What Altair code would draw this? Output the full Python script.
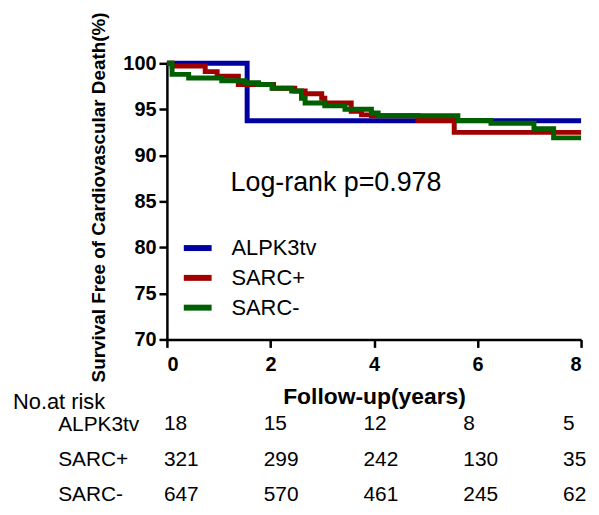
import altair as alt
import pandas as pd

# ---------------- data ----------------
groups = ["ALPK3tv", "SARC+", "SARC-"]
colors = ["#0000A0", "#A00000", "#005F00"]

alpk_t = [0, 1.55, 8.0]
alpk_s = [100, 93.75, 93.75]

sarcp_t = [0, 0.10, 0.74, 0.97, 1.38, 2.06, 2.47, 2.67, 2.99, 3.05, 3.56, 3.76, 3.95, 4.85, 5.55, 8.0]
sarcp_s = [100, 99.7, 99.1, 98.6, 97.7, 97.3, 97.0, 96.7, 96.2, 95.7, 94.8, 94.4, 94.3, 93.8, 92.5, 92.5]

sarcm_t = [0, 0.10, 0.42, 1.06, 1.51, 1.77, 2.03, 2.41, 2.60, 2.67, 3.05, 3.44, 3.95, 4.08, 5.62, 6.26, 7.09, 7.47, 8.0]
sarcm_s = [100, 98.8, 98.4, 98.1, 97.9, 97.7, 97.3, 97.0, 96.2, 95.7, 95.4, 95.0, 94.6, 94.3, 93.8, 93.5, 92.9, 91.9, 91.9]

x_ticks = [0, 2, 4, 6, 8]
y_ticks = [70, 75, 80, 85, 90, 95, 100]

risk_times = [0, 2, 4, 6, 8]
risk_alpk = [18, 15, 12, 8, 5]
risk_sarcp = [321, 299, 242, 130, 35]
risk_sarcm = [647, 570, 461, 245, 62]

logrank_text = "Log-rank p=0.978"
logrank_t = 1.23
logrank_s = 86.95

# ---------------- tables ----------------
rows = []
for g, ts, ss in zip(groups, [alpk_t, sarcp_t, sarcm_t], [alpk_s, sarcp_s, sarcm_s]):
    for t, s in zip(ts, ss):
        rows.append({"group": g, "t": t, "s": s})
curves = pd.DataFrame(rows)

risk_rows = []
for g, ns in zip(groups, [risk_alpk, risk_sarcp, risk_sarcm]):
    for t, n in zip(risk_times, ns):
        risk_rows.append({"group": g, "t": t, "n": n})
risk = pd.DataFrame(risk_rows)

ann = pd.DataFrame({"t": [logrank_t], "s": [logrank_s], "label": [logrank_text]})

FONT = "Liberation Sans"
NO_FRAME = alt.ViewBackground(stroke="transparent", strokeWidth=0, strokeOpacity=0)

x_enc = alt.X(
    "t:Q",
    scale=alt.Scale(domain=[0, 8], nice=False),
    axis=alt.Axis(
        values=x_ticks, title="Follow-up(years)", format="d",
        labelFont=FONT, labelFontSize=20, labelFontWeight="bold", labelColor="black",
        labelPadding=7, tickSize=8, tickWidth=2.5, tickColor="black",
        domainColor="black", domainWidth=2.5, grid=False,
        titleFont=FONT, titleFontSize=23, titleFontWeight="bold", titleColor="black",
        titlePadding=12,
    ),
)
y_enc = alt.Y(
    "s:Q",
    scale=alt.Scale(domain=[70, 100], nice=False, zero=False),
    axis=alt.Axis(
        values=y_ticks, title="Survival Free of Cardiovascular Death(%)",
        labelFont=FONT, labelFontSize=20, labelFontWeight="bold", labelColor="black",
        labelPadding=3, tickSize=8, tickWidth=2.5, tickColor="black",
        domainColor="black", domainWidth=2.5, grid=False,
        titleFont=FONT, titleFontSize=19, titleFontWeight="bold", titleColor="black",
        titlePadding=14, titleY=134.5,
    ),
)

lines = alt.Chart(curves).mark_line(interpolate="step-after", strokeWidth=5).encode(
    x=x_enc,
    y=y_enc,
    color=alt.Color(
        "group:N",
        scale=alt.Scale(domain=groups, range=colors),
        legend=alt.Legend(
            title=None, orient="none", legendX=14, legendY=169, padding=0,
            symbolType="stroke", symbolSize=784, symbolStrokeWidth=6,
            labelFont=FONT, labelFontSize=22, labelColor="black", labelOffset=17,
            rowPadding=1,
        ),
    ),
    detail="group:N",
)

text = alt.Chart(ann).mark_text(
    align="left", baseline="middle", fontSize=27, font=FONT, color="black"
).encode(x="t:Q", y="s:Q", text="label:N")

main = alt.layer(lines, text).properties(width=417, height=278, view=NO_FRAME)

table = alt.Chart(risk).mark_text(
    align="left", baseline="middle", dx=-3, fontSize=21, font=FONT, color="black"
).encode(
    x=alt.X("t:Q", scale=alt.Scale(domain=[0, 8.3], nice=False), axis=None),
    y=alt.Y(
        "group:N", sort=groups, scale=alt.Scale(padding=0.3),
        axis=alt.Axis(
            title=None, labelAlign="left", labelPadding=110, ticks=False, domain=False,
            labelFont=FONT, labelFontSize=21, labelFontWeight="normal", labelColor="black",
            labelBaseline="middle", grid=False,
        ),
    ),
    text="n:Q",
).properties(
    width=417, height=92, view=NO_FRAME,
    title=alt.TitleParams(
        "No.at risk", anchor="start", frame="group", dx=-155, dy=17, offset=0,
        baseline="alphabetic", fontSize=22, fontWeight="normal", font=FONT, color="black",
    ),
)

chart = (
    alt.vconcat(main, table, spacing=75, bounds="flush")
    .resolve_scale(color="independent", x="independent", y="independent")
    .properties(padding={"left": 5, "top": 2, "right": 0, "bottom": 0})
    .configure_view(stroke="transparent", strokeWidth=0, strokeOpacity=0)
    .configure(font=FONT)
)

chart.save("out.html", embed_options={"renderer": "svg", "actions": False})
